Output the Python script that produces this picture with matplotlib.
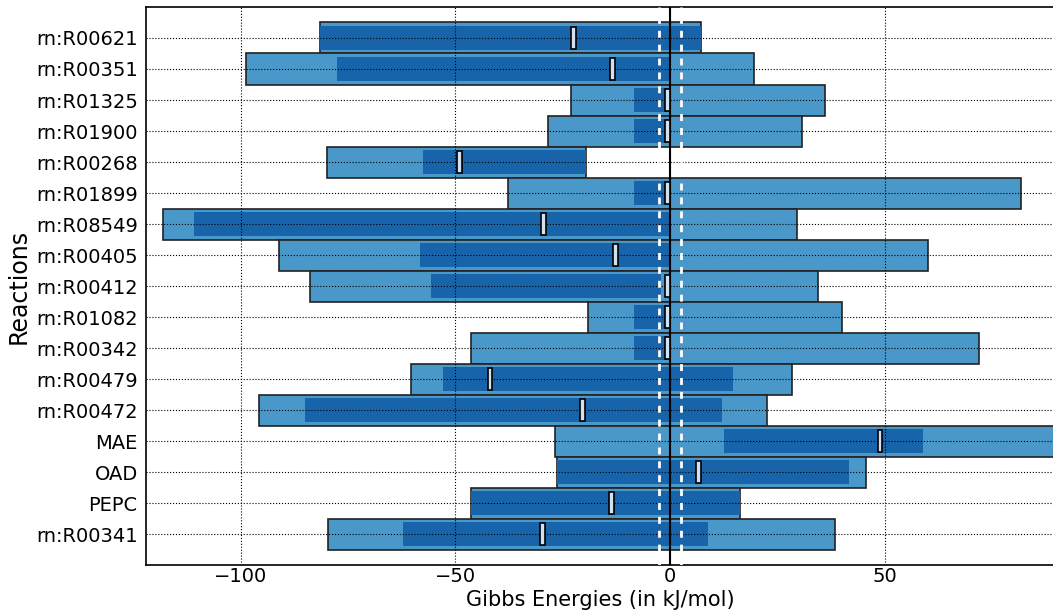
import matplotlib
matplotlib.use("Agg")
import matplotlib.pyplot as plt

reactions = ["rn:R00621", "rn:R00351", "rn:R01325", "rn:R01900", "rn:R00268",
             "rn:R01899", "rn:R08549", "rn:R00405", "rn:R00412", "rn:R01082",
             "rn:R00342", "rn:R00479", "rn:R00472", "MAE", "OAD", "PEPC",
             "rn:R00341"]

# full feasible range of the reaction Gibbs energy
range_low = [-81.4, -98.7, -23.1, -28.4, -79.9, -37.8, -118.1, -91.0, -83.8,
             -19.0, -46.4, -60.2, -95.6, -26.7, -26.2, -46.4, -79.7]
range_high = [7.2, 19.5, 36.0, 30.7, -19.5, 81.7, 29.6, 60.1, 34.4,
              40.1, 71.9, 28.5, 22.6, 100.0, 45.6, 16.3, 38.5]

# narrower range under the optimised concentrations
opt_low = [-81.4, -77.5, -8.3, -8.3, -57.5, -8.3, -110.9, -58.2, -55.6,
           -8.3, -8.3, -52.8, -85.0, 12.7, -26.2, -46.4, -62.1]
opt_high = [7.2, 0.0, 0.0, 0.0, -19.5, 0.0, 0.0, 0.0, -2.0,
            0.0, 0.0, 14.8, 12.2, 59.0, 41.6, 16.3, 8.9]

# Gibbs energy at the chosen operating point
point_value = [-22.4, -13.3, -0.5, -0.5, -49.0, -0.5, -29.5, -12.7, -0.5,
               -0.5, -0.5, -41.9, -20.3, 48.9, 6.7, -13.6, -29.6]

threshold = 2.5

light = "#4a97c9"
dark = "#1764ab"

fig = plt.figure(figsize=(10.53, 6.14), dpi=100)
ax = fig.add_axes([0.1387, 0.0798, 0.8625, 0.9088])

ypos = list(range(len(reactions)))
width_range = [h - l for l, h in zip(range_low, range_high)]
width_opt = [h - l for l, h in zip(opt_low, opt_high)]

ax.barh(ypos, width_range, left=range_low, height=1.0, color=light,
        edgecolor="#222222", linewidth=1.2, zorder=1)
ax.barh(ypos, width_opt, left=opt_low, height=0.75, color=dark,
        edgecolor="none", zorder=2)

ax.axvline(-threshold, color="white", linestyle=(0, (2.5, 2.5)), linewidth=2, zorder=3)
ax.axvline(threshold, color="white", linestyle=(0, (2.5, 2.5)), linewidth=2, zorder=3)
ax.axvline(0, color="black", linewidth=1.5, zorder=3)

mark_w = 1.1
ax.barh(ypos, [mark_w] * len(ypos), left=[v - mark_w / 2 for v in point_value],
        height=0.7, color="#d2e0ef", edgecolor="black", linewidth=1.2, zorder=4)

ax.set_yticks(ypos)
ax.set_yticklabels(reactions, fontsize=14)
ax.set_ylim(len(reactions), -1)
ax.set_xlim(-122, 89.5)
ax.set_xticks([-100, -50, 0, 50])
ax.set_xticklabels(["\u2212100", "\u221250", "0", "50"], fontsize=14)
ax.tick_params(axis="both", direction="in", length=0, pad=6)
ax.tick_params(axis="x", pad=1.5)

ax.set_axisbelow(False)
ax.grid(True, linestyle=":", color="black", linewidth=0.8, zorder=5)
for sp in ax.spines.values():
    sp.set_linewidth(1.2)
ax.spines["right"].set_visible(False)

ax.set_xlabel("Gibbs Energies (in kJ/mol)", fontsize=15)
ax.xaxis.set_label_coords(0.5, -0.0442)
ax.set_ylabel("Reactions", fontsize=17, labelpad=4)

fig.savefig("out.png", dpi=100)
